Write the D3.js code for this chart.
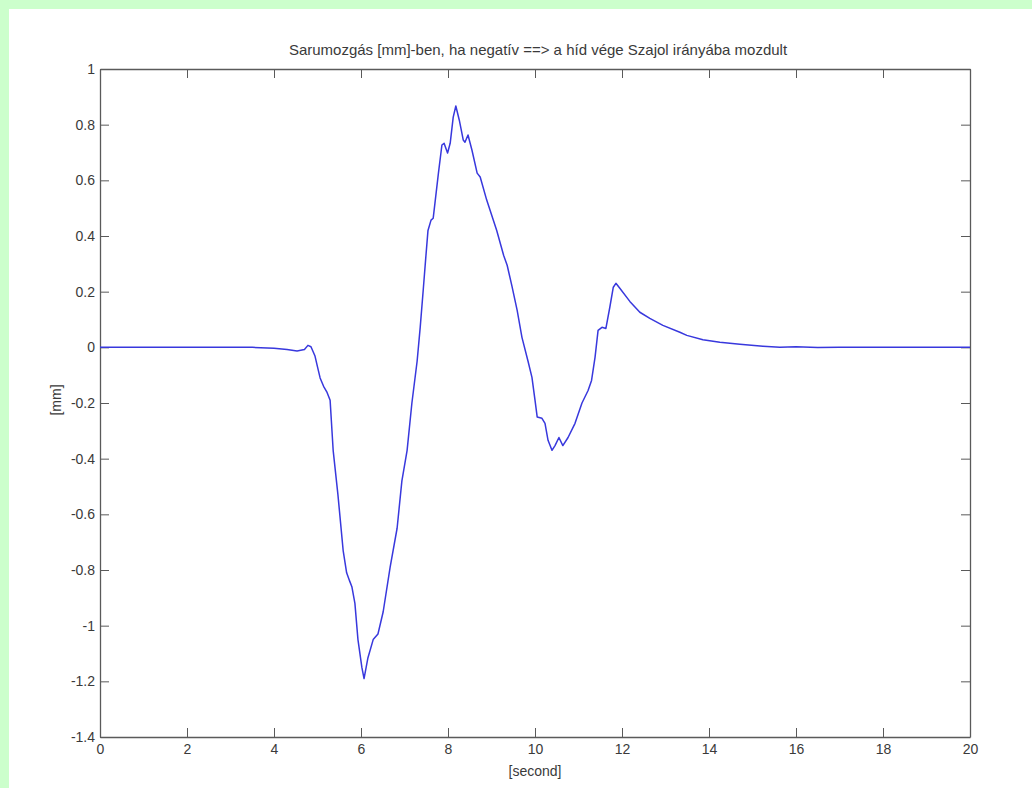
<!DOCTYPE html>
<html>
<head>
<meta charset="utf-8">
<script src="https://cdn.jsdelivr.net/npm/d3@7"></script>
<style>
  html, body { margin: 0; padding: 0; background: #ffffff; }
  svg { display: block; }
  text { font-family: "Liberation Sans", Arial, sans-serif; fill: #3a3a3a; }
</style>
</head>
<body>
<svg id="chart" width="1032" height="788"></svg>
<script>
// Bearing displacement record: time [s] and movement [mm]
const timeSec = [
  0, 1, 2, 3, 3.5, 4.0, 4.3, 4.53, 4.7, 4.78, 4.85, 4.94, 5.0, 5.06, 5.14, 5.22,
  5.29, 5.36, 5.47, 5.59, 5.67, 5.74, 5.79, 5.86, 5.93, 6.02, 6.07, 6.16, 6.28,
  6.39, 6.51, 6.67, 6.83, 6.94, 7.06, 7.17, 7.29, 7.36, 7.43, 7.49, 7.54, 7.61,
  7.66, 7.70, 7.78, 7.86, 7.91, 7.99, 8.05, 8.12, 8.18, 8.26, 8.35, 8.39, 8.46,
  8.55, 8.67, 8.74, 8.89, 9.12, 9.28, 9.36, 9.47, 9.59, 9.70, 9.84, 9.93, 10.0,
  10.05, 10.16, 10.23, 10.30, 10.39, 10.46, 10.55, 10.64, 10.76, 10.92, 11.08,
  11.22, 11.30, 11.38, 11.45, 11.54, 11.63, 11.72, 11.80, 11.86, 11.95, 12.18,
  12.41, 12.64, 12.94, 13.33, 13.49, 13.86, 14.25, 14.71, 15.24, 15.63, 16.0,
  16.5, 17.0, 18, 19, 20
];
const moveMm = [
  0, 0, 0, 0, 0.000, -0.003, -0.008, -0.013, -0.008, 0.007, 0.002, -0.03, -0.07,
  -0.11, -0.14, -0.162, -0.19, -0.37, -0.53, -0.73, -0.81, -0.84, -0.86, -0.92,
  -1.05, -1.15, -1.19, -1.115, -1.05, -1.03, -0.95, -0.79, -0.65, -0.48, -0.37,
  -0.20, -0.05, 0.07, 0.205, 0.324, 0.42, 0.457, 0.464, 0.518, 0.626, 0.727,
  0.733, 0.698, 0.733, 0.827, 0.867, 0.816, 0.745, 0.737, 0.763, 0.709, 0.626,
  0.612, 0.529, 0.42, 0.33, 0.295, 0.22, 0.133, 0.036, -0.05, -0.108, -0.19,
  -0.25, -0.255, -0.273, -0.334, -0.37, -0.353, -0.324, -0.353, -0.324, -0.273,
  -0.2, -0.155, -0.119, -0.036, 0.061, 0.072, 0.068, 0.144, 0.216, 0.23, 0.212,
  0.165, 0.126, 0.104, 0.079, 0.054, 0.043, 0.027, 0.018, 0.011, 0.004, 0.0,
  0.002, -0.001, 0.0, 0, 0, 0
];

const xTicks = [0, 2, 4, 6, 8, 10, 12, 14, 16, 18, 20];
const xTickLabels = ["0", "2", "4", "6", "8", "10", "12", "14", "16", "18", "20"];
const yTicks = [1, 0.8, 0.6, 0.4, 0.2, 0, -0.2, -0.4, -0.6, -0.8, -1, -1.2, -1.4];
const yTickLabels = ["1", "0.8", "0.6", "0.4", "0.2", "0", "-0.2", "-0.4", "-0.6", "-0.8", "-1", "-1.2", "-1.4"];

const titleText = "Sarumozgás [mm]-ben, ha negatív ==> a híd vége Szajol irányába mozdult";
const xLabelText = "[second]";
const yLabelText = "[mm]";

const svg = d3.select("#chart");
const W = 1032, H = 788;

// page frame: green border on the top and left
svg.append("rect").attr("x", 0).attr("y", 0).attr("width", W).attr("height", H).attr("fill", "#ccffcc");
svg.append("rect").attr("x", 9).attr("y", 9).attr("width", W - 9).attr("height", H - 9).attr("fill", "#ffffff");

const plotL = 100, plotR = 970, plotT = 69, plotB = 737;
const x = d3.scaleLinear().domain([0, 20]).range([plotL, plotR]);
const y = d3.scaleLinear().domain([-1.4, 1]).range([plotB, plotT]);

const axisColor = "#5a5a5a";
const tickLen = 9;

function styleAxis(g) {
  g.selectAll("path.domain").attr("stroke", axisColor).attr("stroke-width", 1.3);
  g.selectAll(".tick line").attr("stroke", axisColor).attr("stroke-width", 1);
  g.selectAll(".tick text").attr("fill", "#3a3a3a").style("font-size", "14px")
    .style("font-family", "'Liberation Sans', Arial, sans-serif");
}

// bottom axis with labels
svg.append("g").attr("transform", `translate(0,${plotB})`)
  .call(d3.axisBottom(x).tickValues(xTicks)
    .tickFormat((d, i) => xTickLabels[i])
    .tickSizeInner(-tickLen).tickSizeOuter(0).tickPadding(7))
  .call(styleAxis);

// top axis, ticks only
svg.append("g").attr("transform", `translate(0,${plotT})`)
  .call(d3.axisTop(x).tickValues(xTicks).tickFormat("")
    .tickSizeInner(-tickLen).tickSizeOuter(0))
  .call(styleAxis);

// left axis with labels
svg.append("g").attr("transform", `translate(${plotL},0)`)
  .call(d3.axisLeft(y).tickValues(yTicks)
    .tickFormat((d, i) => yTickLabels[i])
    .tickSizeInner(-tickLen).tickSizeOuter(0).tickPadding(5))
  .call(styleAxis);

// right axis, ticks only
svg.append("g").attr("transform", `translate(${plotR},0)`)
  .call(d3.axisRight(y).tickValues(yTicks).tickFormat("")
    .tickSizeInner(-tickLen).tickSizeOuter(0))
  .call(styleAxis);

// displacement trace
const series = timeSec.map((t, i) => [t, moveMm[i]]);
const line = d3.line().x(d => x(d[0])).y(d => y(d[1])).curve(d3.curveLinear);
svg.append("path")
  .datum(series)
  .attr("d", line)
  .attr("fill", "none")
  .attr("stroke", "#3838dd")
  .attr("stroke-width", 1.5)
  .attr("stroke-linejoin", "round");

// title and axis labels
svg.append("text").attr("x", (plotL + plotR) / 2 + 3).attr("y", 55)
  .attr("text-anchor", "middle").style("font-size", "15px").text(titleText);

svg.append("text").attr("x", (plotL + plotR) / 2).attr("y", 776)
  .attr("text-anchor", "middle").style("font-size", "14px").text(xLabelText);

svg.append("text").attr("transform", `translate(61,400) rotate(-90)`)
  .attr("text-anchor", "middle").style("font-size", "14px").text(yLabelText);
</script>
</body>
</html>
